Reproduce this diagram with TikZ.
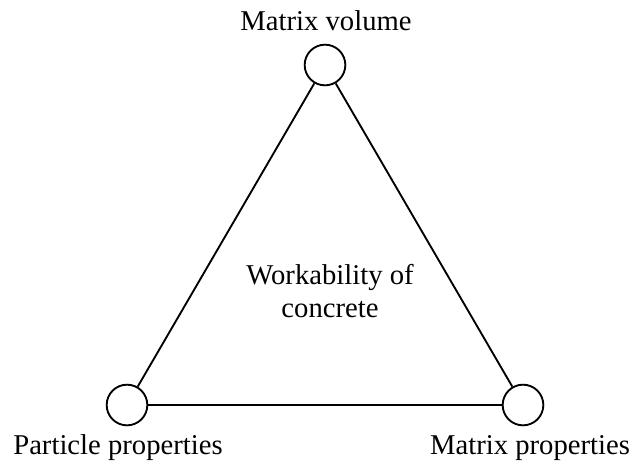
\documentclass[tikz,border=0pt]{standalone}
\usepackage{fontspec}
\setmainfont{Liberation Serif}
\usetikzlibrary{positioning}

\begin{document}
\begin{tikzpicture}[x={(0.75pt,0pt)},y={(0pt,-0.75pt)},line width=1.4pt,
  factor/.style={circle,draw,minimum size=30.5pt,inner sep=0pt},
  lbl/.style={font=\fontsize{21.5}{25}\selectfont,align=center,inner sep=0pt}]
\useasboundingbox (0,0) rectangle (634,465);
% factors at the corners
\node[factor] (vol) at (325,65) {};
\node[factor] (part) at (127,405) {};
\node[factor] (mprop) at (523,405) {};
% sides of the triangle
\draw (vol) -- (part);
\draw (vol) -- (mprop);
\draw (part) -- (mprop);
% labels
\node[lbl] (volT) at (326,21) {Matrix volume};
\node[lbl] (partT) at (118,448) {Particle properties};
\node[lbl] (mpropT) at (530,448) {Matrix properties};
\node[lbl] (work) at (330,291) {Workability of\\concrete};
\end{tikzpicture}
\end{document}
